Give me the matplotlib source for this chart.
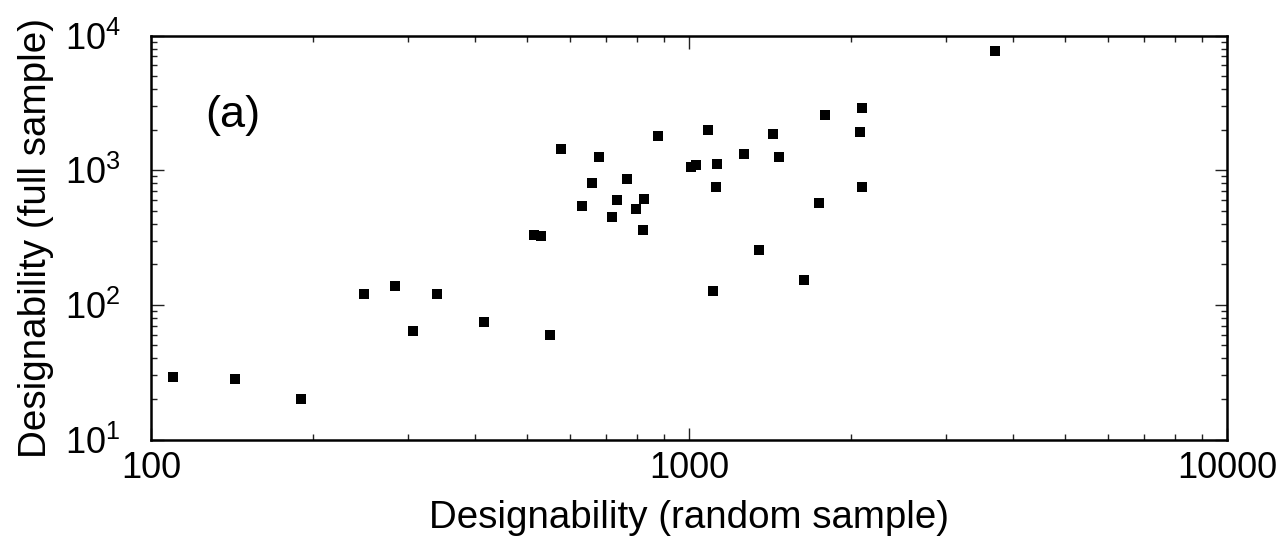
import matplotlib
matplotlib.use("Agg")
import matplotlib.pyplot as plt
from matplotlib.ticker import FixedLocator, FuncFormatter, LogLocator, NullFormatter

plt.rcParams['font.family'] = ['Liberation Sans', 'DejaVu Sans']
plt.rcParams['mathtext.fontset'] = 'custom'
plt.rcParams['mathtext.rm'] = 'Liberation Sans'
plt.rcParams['mathtext.it'] = 'Liberation Sans'
plt.rcParams['mathtext.bf'] = 'Liberation Sans'

# Data
random_sample = [110, 143, 190, 249, 284, 307, 340, 416, 515, 530, 551, 578,
                 633, 661, 681, 720, 734, 767, 797, 824, 821, 876, 1009, 1032,
                 1086, 1121, 1107, 1127, 1264, 1351, 1432, 1468, 1634, 1744,
                 1787, 2079, 2097, 2097, 3710]
full_sample = [28.9, 28.1, 20.1, 120, 137, 63.8, 120, 74, 329, 323, 59.6, 1435,
               542, 799, 1252, 447, 600, 860, 515, 608, 360, 1792, 1062, 1099,
               1998, 755, 127, 1105, 1317, 256, 1854, 1260, 152, 568,
               2564, 1931, 2874, 746, 7648]

x_ticks = [100, 1000, 10000]
x_tick_labels = ['100', '1000', '10000']
y_ticks = [10, 100, 1000, 10000]
y_exponents = [1, 2, 3, 4]
panel_label = '(a)'
x_label = 'Designability (random sample)'
y_label = 'Designability (full sample)'

fig = plt.figure(figsize=(12.84, 5.46), dpi=100)
ax = fig.add_axes([151/1284, 1 - 439.5/546, (1227-151)/1284, (439.5-35.5)/546])

ax.plot(random_sample, full_sample, 's', color='black', ms=7.6, mew=0, ls='none')

ax.set_xscale('log')
ax.set_yscale('log')
ax.set_xlim(100, 10000)
ax.set_ylim(10, 10000)

ax.xaxis.set_major_locator(FixedLocator(x_ticks))
ax.xaxis.set_major_formatter(FuncFormatter(lambda v, p: x_tick_labels[x_ticks.index(round(v))] if round(v) in x_ticks else ''))
ax.yaxis.set_major_locator(FixedLocator(y_ticks))
ax.yaxis.set_major_formatter(FuncFormatter(
    lambda v, p: r'$\mathregular{10^{%d}}$' % y_exponents[y_ticks.index(round(v))] if round(v) in y_ticks else ''))
ax.xaxis.set_minor_locator(LogLocator(base=10, subs=range(2, 10)))
ax.yaxis.set_minor_locator(LogLocator(base=10, subs=range(2, 10)))
ax.xaxis.set_minor_formatter(NullFormatter())
ax.yaxis.set_minor_formatter(NullFormatter())

ax.tick_params(which='both', direction='in', top=True, right=True, color='#222222')
ax.tick_params(which='major', length=9, width=1.0)
ax.tick_params(which='minor', length=4.5, width=1.0)
ax.tick_params(axis='x', which='major', labelsize=26, pad=8)
ax.tick_params(axis='y', which='major', labelsize=26, pad=22)

for s in ax.spines.values():
    s.set_linewidth(1.8)

ax.set_xlabel(x_label, fontsize=27.7, labelpad=10)
ax.set_ylabel(y_label, fontsize=27.8, labelpad=7.5)

ax.text(0.05, 0.773, panel_label, transform=ax.transAxes, fontsize=32.5,
        ha='left', va='baseline')

fig.savefig('out.png', dpi=100)
